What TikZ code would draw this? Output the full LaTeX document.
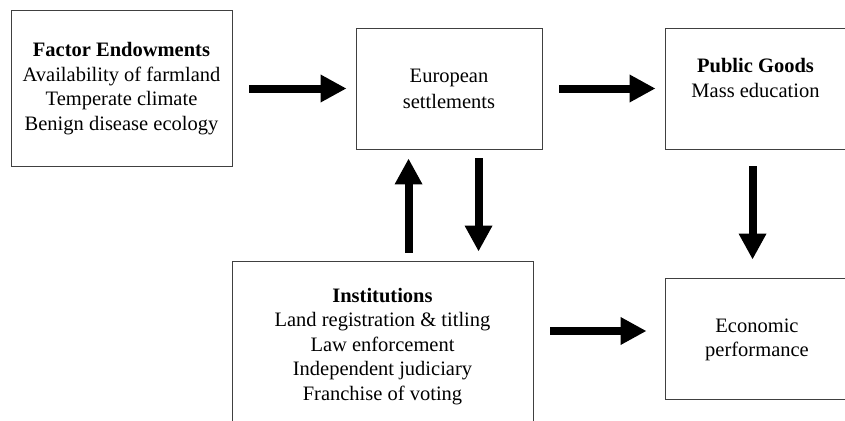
\documentclass[tikz,border=0pt]{standalone}
\usepackage{fontspec}
\setmainfont{Liberation Serif}
\usetikzlibrary{arrows.meta}
\begin{document}
\begin{tikzpicture}[x=1pt,y=-1pt,
  box/.style={draw=black!75, line width=0.9pt, align=center, inner sep=0pt,
              font=\fontsize{20.5}{24.5}\selectfont},
  boxtext/.style={font=\fontsize{20.5}{24.5}\selectfont, align=center, inner sep=0pt},
  bigarrow/.style={line width=8pt, -{Triangle[length=26pt,width=26pt]}}]
\useasboundingbox (0,0) rectangle (845,420);
\clip (0,0) rectangle (845,420);
\node[box, minimum width=221pt, minimum height=156pt] (fe) at (121.5,88.5)
  {\textbf{Factor Endowments}\\Availability of farmland\\Temperate climate\\Benign disease ecology};
\node[box, minimum width=186pt, minimum height=121pt] (eu) at (449,88.5)
  {European\\[1.5pt]settlements};
\node[box, minimum width=190pt, minimum height=121pt] (pg) at (760,88.5) {};
\node[boxtext] (pgt) at (755.5,78)
  {\textbf{Public Goods}\\Mass education};
\node[box, minimum width=301pt, minimum height=171pt] (inst) at (382.5,346.5)
  {\textbf{Institutions}\\Land registration \& titling\\Law enforcement\\Independent judiciary\\Franchise of voting};
\node[box, minimum width=190pt, minimum height=121pt] (ec) at (760,338.5) {};
\node[boxtext] (ect) at (757,340) {Economic\\performance};
\draw[bigarrow] ([xshift=17pt]fe.east) -- ([xshift=-9pt]eu.west);
\draw[bigarrow] ([xshift=17pt]eu.east) -- ([xshift=-9pt]pg.west);
\draw[bigarrow] ([xshift=88pt,yshift=-17pt]pg.south west) -- ([xshift=88pt,yshift=18pt]ec.north west);
\draw[bigarrow] ([xshift=177pt,yshift=8pt]inst.north west) -- ([xshift=53pt,yshift=-9pt]eu.south west);
\draw[bigarrow] ([xshift=123pt,yshift=-9pt]eu.south west) -- ([xshift=247pt,yshift=9pt]inst.north west);
\draw[bigarrow] ([xshift=17pt,yshift=15.5pt]inst.east) -- ([xshift=-18pt,yshift=7.5pt]ec.west);
\end{tikzpicture}
\end{document}
